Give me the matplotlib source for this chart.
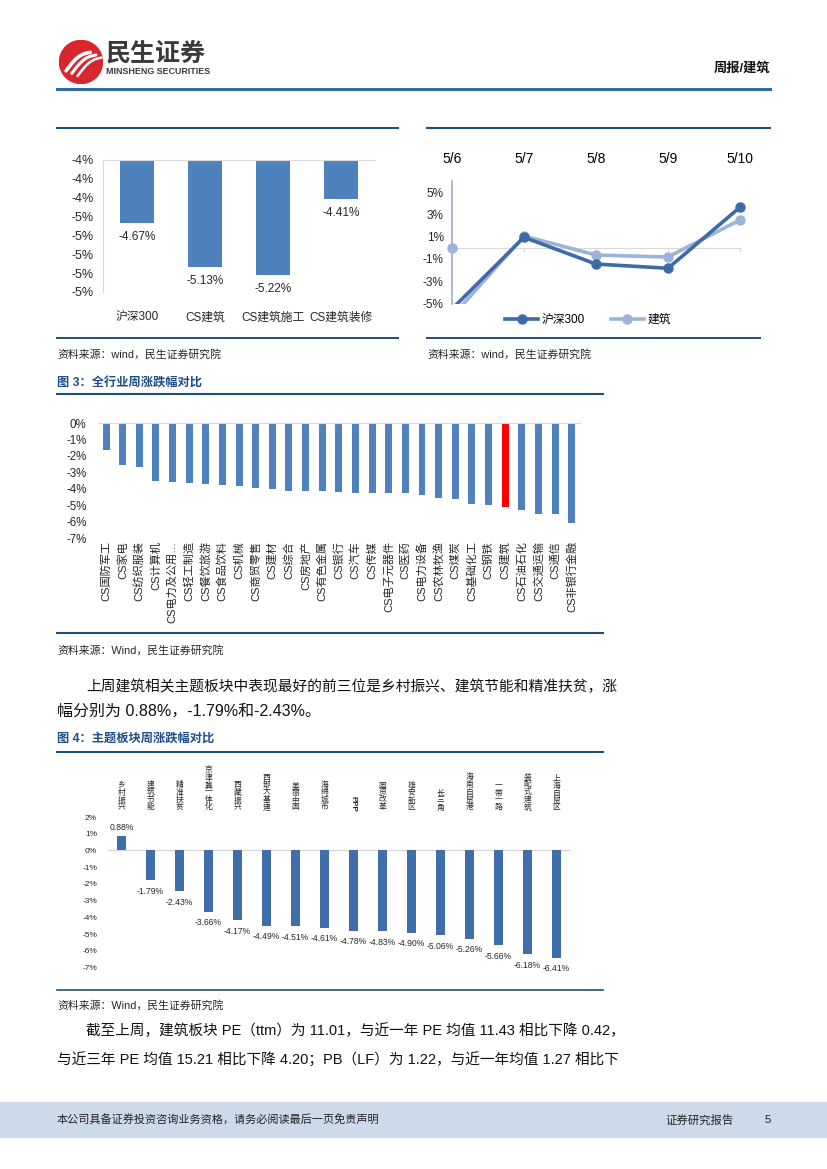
import matplotlib
matplotlib.use('Agg')
import matplotlib.pyplot as plt
import numpy as np
from matplotlib.patches import Circle, Rectangle
from matplotlib.lines import Line2D

plt.rcParams['font.family'] = ['Liberation Sans', 'Noto Sans CJK SC', 'DejaVu Sans']
plt.rcParams['axes.unicode_minus'] = False

# ---------------- data ----------------
c1_cats = ['沪深300', 'CS建筑', 'CS建筑施工', 'CS建筑装修']
c1_vals = [-4.67, -5.13, -5.22, -4.41]

c2_dates = ['5/6', '5/7', '5/8', '5/9', '5/10']
c2_hs300 = [-5.5, 0.94, -1.46, -1.84, 3.64]
c2_jz = [-6.2, 1.06, -0.65, -0.83, 2.50]
c2_jz_base = [0.0]          # lone 建筑 marker drawn at 5/6

c3_cats = ['CS国防军工', 'CS家电', 'CS纺织服装', 'CS计算机', 'CS电力及公用…', 'CS轻工制造',
           'CS餐饮旅游', 'CS食品饮料', 'CS机械', 'CS商贸零售', 'CS建材', 'CS综合', 'CS房地产',
           'CS有色金属', 'CS银行', 'CS汽车', 'CS传媒', 'CS电子元器件', 'CS医药', 'CS电力设备',
           'CS农林牧渔', 'CS煤炭', 'CS基础化工', 'CS钢铁', 'CS建筑', 'CS石油石化', 'CS交通运输',
           'CS通信', 'CS非银行金融']
c3_vals = [-1.63, -2.57, -2.69, -3.53, -3.59, -3.65, -3.73, -3.75, -3.83, -3.97, -4.03, -4.13,
           -4.13, -4.15, -4.18, -4.24, -4.24, -4.28, -4.28, -4.36, -4.58, -4.64, -4.92, -5.00,
           -5.13, -5.26, -5.52, -5.54, -6.08]
c3_highlight = 'CS建筑'

c4_cats = ['乡村振兴', '建筑节能', '精准扶贫', '京津冀一体化', '西藏振兴', '西部大基建', '美丽中国',
           '海绵城市', 'PPP', '国资改革', '雄安新区', '长三角', '海南自贸港', '一带一路',
           '装配式建筑', '上海自贸区']
c4_vals = [0.88, -1.79, -2.43, -3.66, -4.17, -4.49, -4.51, -4.61, -4.78, -4.83, -4.90, -5.06,
           -5.26, -5.66, -6.18, -6.41]

# ---------------- layout helpers ----------------
W, H = 827, 1169
fig = plt.figure(figsize=(W / 100, H / 100), dpi=100)
fig.patch.set_facecolor('white')


def rect(x0, y0, x1, y1):
    return [x0 / W, 1 - y1 / H, (x1 - x0) / W, (y1 - y0) / H]


def ftext(x, y, s, **kw):
    kw.setdefault('va', 'center')
    return fig.text(x / W, 1 - y / H, s, **kw)


def hline(y, x0, x1, color='#1F4E79', lw=1.4):
    fig.add_artist(Line2D([x0 / W, x1 / W], [1 - y / H, 1 - y / H], color=color, lw=lw))


TXT = '#262626'

# ---------------- header ----------------
lax = fig.add_axes(rect(59, 40, 103, 84))
lax.set_xlim(0, 1); lax.set_ylim(0, 1); lax.set_aspect('equal'); lax.axis('off')
lax.add_patch(Circle((0.5, 0.5), 0.49, color='#D7262D'))
for k in range(3):
    t = np.linspace(0, 1, 30)
    xs = 0.16 + 0.13 * k + 0.55 * t
    ys = 0.30 - 0.06 * k + 0.42 * t + 0.10 * np.sin(np.pi * t)
    lax.plot(xs, ys, color='white', lw=2.6 - 0.4 * k, solid_capstyle='round')
ftext(106, 54, '民生证券', fontsize=18, fontweight='bold', color='#3A3A3A')
ftext(106, 72, 'MINSHENG SECURITIES', fontsize=6.4, fontweight='bold', color='#3A3A3A')
ftext(770, 68, '周报/建筑', fontsize=9.5, fontweight='bold', color='#111111', ha='right')
hline(89, 57, 770, color='#2F69A8', lw=2.2)

# top dividers
hline(128, 57, 398, lw=1.5)
hline(128, 427, 770, lw=1.5)

# ---------------- chart 1 ----------------
ax1 = fig.add_axes(rect(103, 160, 375, 292))
x1 = np.arange(len(c1_cats))
base1 = -4.0
ax1.bar(x1, np.array(c1_vals) - base1, bottom=base1, width=0.51, color='#4F81BD')
ax1.set_ylim(-5.4, -4.0)
ax1.set_xlim(-0.5, len(c1_cats) - 0.5)
yt1 = np.arange(-5.4, -3.99, 0.2)
ax1.set_yticks(yt1)
ax1.set_yticklabels(['{:.0f}%'.format(round(v, 2) + 0.0) for v in yt1], fontsize=9, color=TXT)
ax1.set_xticks(x1)
ax1.set_xticklabels(c1_cats, fontsize=8.5, color=TXT)
ax1.tick_params(length=0, axis='y', pad=7)
ax1.tick_params(length=0, axis='x', pad=14)
for s in ['right', 'bottom']:
    ax1.spines[s].set_visible(False)
for s in ['left', 'top']:
    ax1.spines[s].set_color('#D9D9D9')
for xi, v in zip(x1, c1_vals):
    ax1.text(xi, v - 0.15, '{:.2f}%'.format(v), ha='center', va='center', fontsize=8.5, color=TXT)
hline(338, 57, 398, lw=1.4)
ftext(57, 354, '资料来源：wind，民生证券研究院', fontsize=7.8, color=TXT)

# ---------------- chart 2 ----------------
ax2 = fig.add_axes(rect(452, 181, 740, 304))
x2 = np.arange(len(c2_dates))
DARK, LIGHT = '#3D6BA6', '#9DB4DA'
ymin2 = -5.05
ax2.plot(x2, c2_jz, color=LIGHT, lw=2.6, label='建筑', zorder=3)
ax2.plot(x2, c2_hs300, color=DARK, lw=2.6, label='沪深300', zorder=4)
ax2.plot(x2, np.ma.masked_less(c2_jz, ymin2), color=LIGHT, lw=0, marker='o', ms=6.5,
         zorder=3, clip_on=False)
ax2.plot(x2, np.ma.masked_less(c2_hs300, ymin2), color=DARK, lw=0, marker='o', ms=6.5,
         zorder=4, clip_on=False)
ax2.plot(x2[:1], c2_jz_base, color=LIGHT, marker='o', ms=6.5, lw=0, zorder=4, clip_on=False)
ax2.set_xlim(0, 4)
ax2.set_ylim(ymin2, 6)
ax2.set_yticks([-5, -3, -1, 1, 3, 5])
ax2.set_yticklabels(['-5%', '-3%', '-1%', '1%', '3%', '5%'], fontsize=8.5, color=TXT)
ax2.set_xticks(x2)
ax2.set_xticklabels(c2_dates, fontsize=8.5, color=TXT)
ax2.spines['bottom'].set_position(('data', 0))
ax2.spines['bottom'].set_color('#D9D9D9')
ax2.spines['left'].set_color('#9DB0CF')
ax2.spines['left'].set_linewidth(1.2)
for s in ['right', 'top']:
    ax2.spines[s].set_visible(False)
ax2.tick_params(axis='x', bottom=True, top=False, labelbottom=False, labeltop=True,
                direction='out', length=3, color='#D9D9D9', pad=8)
ax2.tick_params(axis='y', length=0, pad=6)
leg_handles = [Line2D([], [], color=DARK, lw=2.6, marker='o', ms=6.5),
               Line2D([], [], color=LIGHT, lw=2.6, marker='o', ms=6.5)]
fig.legend(leg_handles, ['沪深300', '建筑'], loc='center', bbox_to_anchor=(588 / W, 1 - 320 / H),
           ncol=2, frameon=False, fontsize=8.5, handlelength=2.8, columnspacing=2.2,
           handletextpad=0.3)
hline(338, 427, 760, lw=1.4)
ftext(427, 354, '资料来源：wind，民生证券研究院', fontsize=7.8, color=TXT)

# ---------------- figure 3 ----------------
ftext(57, 384, '图 3：全行业周涨跌幅对比', fontsize=8.8, fontweight='bold', color='#1F4E8C')
hline(394, 57, 603, lw=1.5)
ax3 = fig.add_axes(rect(97.7, 423, 580, 538.3))
x3 = np.arange(len(c3_cats))
cols3 = ['#FF0000' if c == c3_highlight else '#4F81BD' for c in c3_cats]
ax3.bar(x3, c3_vals, width=0.42, color=cols3)
ax3.set_ylim(-7, 0)
ax3.set_xlim(-0.5, len(c3_cats) - 0.5)
ax3.set_yticks(np.arange(-7, 1))
ax3.set_yticklabels(['{}%'.format(v) for v in range(-7, 1)], fontsize=8.3, color=TXT)
ax3.set_xticks(x3)
ax3.set_xticklabels(c3_cats, rotation=90, fontsize=8, color=TXT)
ax3.tick_params(length=0, axis='x', pad=2)
ax3.tick_params(length=0, axis='y', pad=8)
for s in ['right', 'bottom', 'left']:
    ax3.spines[s].set_visible(False)
ax3.spines['top'].set_color('#D9D9D9')
hline(633, 57, 603, lw=1.5)
ftext(57, 650, '资料来源：Wind，民生证券研究院', fontsize=7.8, color=TXT)


# ---------------- body text ----------------
def body_line(x, y, s, x_end=None, fs=11.5):
    t = ftext(x, y, s, fontsize=fs, color='#111111')
    if x_end is not None:
        r = fig.canvas.get_renderer()
        w = t.get_window_extent(r).width
        nf = fs * (x_end - x) / w
        t.set_fontsize(min(max(nf, 10.5), 12.2))
    return t


body_line(86, 687, '上周建筑相关主题板块中表现最好的前三位是乡村振兴、建筑节能和精准扶贫，涨', x_end=617)
body_line(57, 711, '幅分别为 0.88%，-1.79%和-2.43%。', fs=11.5)

# ---------------- figure 4 ----------------
ftext(57, 739, '图 4：主题板块周涨跌幅对比', fontsize=8.8, fontweight='bold', color='#1F4E8C')
hline(752, 57, 603, lw=1.5)
ax4 = fig.add_axes(rect(106.8, 817, 570.8, 967.7))
x4 = np.arange(len(c4_cats))
ax4.bar(x4, c4_vals, width=0.32, color='#3F6EAA')
ax4.axhline(0, color='#D9D9D9', lw=1, zorder=0)
ax4.set_ylim(-7, 2)
ax4.set_xlim(-0.5, len(c4_cats) - 0.5)
ax4.set_yticks(np.arange(-7, 3))
ax4.set_yticklabels(['{}%'.format(v) for v in range(-7, 3)], fontsize=6, color=TXT)
ax4.tick_params(axis='y', length=0, pad=7)
ax4.set_xticks([])
for s in ax4.spines.values():
    s.set_visible(False)
for xi, c in zip(x4, c4_cats):
    if c.isascii():
        ax4.annotate(c, (xi, 1.0), xycoords=('data', 'axes fraction'), xytext=(0, 4),
                     textcoords='offset points', ha='center', va='bottom', rotation=270,
                     fontsize=5.8, fontweight='bold', color=TXT)
    else:
        ax4.annotate('\n'.join(c), (xi, 1.0), xycoords=('data', 'axes fraction'), xytext=(0, 4),
                     textcoords='offset points', ha='center', va='bottom', fontsize=5.6,
                     linespacing=0.95, color=TXT)
for xi, v in zip(x4, c4_vals):
    off = 2.5 if v >= 0 else -8
    ax4.annotate('{:.2f}%'.format(v), (xi, v), xytext=(0, off), textcoords='offset points',
                 ha='center', va='bottom' if v >= 0 else 'center', fontsize=6.2, color=TXT)
hline(990, 57, 603, lw=1.2)
ftext(57, 1005, '资料来源：Wind，民生证券研究院', fontsize=7.8, color=TXT)

body_line(86, 1031, '截至上周，建筑板块 PE（ttm）为 11.01，与近一年 PE 均值 11.43 相比下降 0.42，', x_end=617)
body_line(57, 1060, '与近三年 PE 均值 15.21 相比下降 4.20；PB（LF）为 1.22，与近一年均值 1.27 相比下', x_end=613)

# ---------------- footer ----------------
fig.add_artist(Rectangle((0, 1 - 1137 / H), 1, 35 / H, transform=fig.transFigure,
                         color='#CCDAE9', zorder=0))
ftext(57, 1120, '本公司具备证券投资咨询业务资格，请务必阅读最后一页免责声明', fontsize=8, color='#222222')
ftext(665, 1120, '证券研究报告', fontsize=8.2, color='#222222')
ftext(765, 1120, '5', fontsize=8.2, color='#222222')

fig.savefig('out.png', dpi=100, facecolor='white')
